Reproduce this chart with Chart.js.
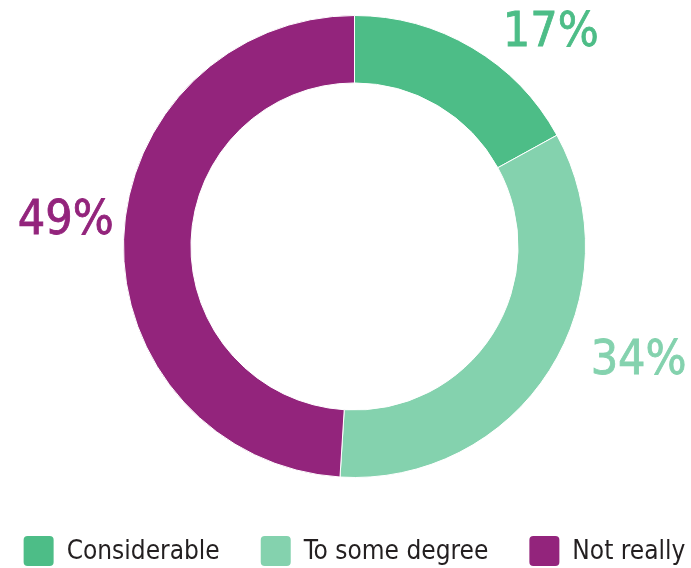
<!DOCTYPE html>
<html>
<head>
<meta charset="utf-8">
<script src="https://cdn.jsdelivr.net/npm/chart.js@4"></script>
<style>
    html, body { margin: 0; padding: 0; background: #ffffff; }
    #wrap { width: 691px; height: 568px; position: relative; }
</style>
</head>
<body>
<div id="wrap"><canvas id="ringChart"></canvas></div>
<script>
const categories = ['Considerable', 'To some degree', 'Not really']
const shares = [17, 34, 49]
const sliceColors = ['#4dbd87', '#84d2ae', '#93247c']

// where each percent label sits, relative to the ring centre (in radii)
const labelOffsets = [
    { x: 0.85, y: -0.92, align: 'center' },
    { x: 1.23, y: 0.5, align: 'center' },
    { x: -1.25, y: -0.11, align: 'center' },
]

const FONT = "'DejaVu Sans Condensed', 'DejaVu Sans', sans-serif"

const ringLabels = {
    id: 'ringLabels',
    afterDraw(chart) {
        const ctx = chart.ctx
        const arc = chart.getDatasetMeta(0).data[0]
        const cx = arc.x
        const cy = arc.y
        const r = arc.outerRadius
        const ds = chart.data.datasets[0]

        ctx.save()
        // percent labels
        ctx.font = '48px ' + FONT
        ctx.textBaseline = 'middle'
        ctx.lineWidth = 0.8
        ds.data.forEach((v, i) => {
            const o = labelOffsets[i]
            ctx.fillStyle = ds.backgroundColor[i]
            ctx.strokeStyle = ds.backgroundColor[i]
            ctx.textAlign = o.align
            ctx.fillText(v + '%', cx + o.x * r, cy + o.y * r)
            ctx.strokeText(v + '%', cx + o.x * r, cy + o.y * r)
        })

        // legend row along the bottom
        ctx.font = '26px ' + FONT
        ctx.textAlign = 'left'
        const box = 30
        const gapText = 13
        const gapItem = 41
        const widths = chart.data.labels.map((l) => ctx.measureText(l).width)
        const total =
            widths.reduce((a, w) => a + box + gapText + w, 0) +
            gapItem * (widths.length - 1)
        let x = cx - total / 2
        const y = 551
        chart.data.labels.forEach((l, i) => {
            ctx.fillStyle = ds.backgroundColor[i]
            ctx.beginPath()
            ctx.roundRect(x, y - box / 2, box, box, 4)
            ctx.fill()
            x += box + gapText
            ctx.fillStyle = '#231f20'
            ctx.fillText(l, x, y + 1)
            x += widths[i] + gapItem
        })
        ctx.restore()
    },
}

new Chart(document.getElementById('ringChart'), {
    type: 'doughnut',
    data: {
        labels: categories,
        datasets: [
            {
                data: shares,
                backgroundColor: sliceColors,
                borderColor: '#ffffff',
                borderWidth: 1,
            },
        ],
    },
    options: {
        responsive: true,
        maintainAspectRatio: false,
        animation: false,
        cutout: '70.8%',
        layout: {
            padding: { top: 15, bottom: 90, left: 123, right: 105 },
        },
        plugins: {
            legend: { display: false },
            tooltip: { enabled: false },
        },
    },
    plugins: [ringLabels],
})
</script>
</body>
</html>
